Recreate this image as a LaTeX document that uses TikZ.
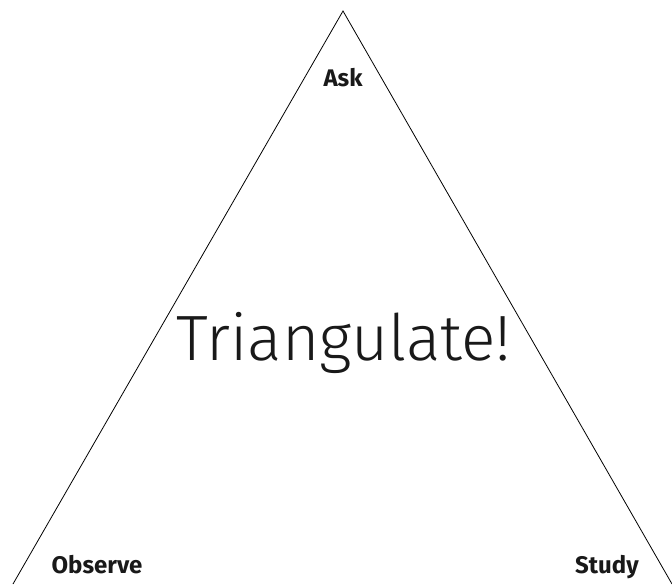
\documentclass[tikz,border=0pt]{standalone}
\usepackage{fontspec}
\setmainfont{Fira Sans}
\newfontfamily\lightfont{Fira Sans Light}
\begin{document}
\begin{tikzpicture}[x=1pt,y=-1pt,
  corner/.style={font=\bfseries\fontsize{24}{28}\selectfont, text=black!90, inner sep=0pt, anchor=base},
  title/.style={font=\lightfont\fontsize{64}{70}\selectfont, text=black!90, inner sep=0pt, anchor=base}]
\useasboundingbox (0,0) rectangle (672,584);
\coordinate (top) at (343,11);
\coordinate (bl) at (13,584);
\coordinate (br) at (672,584);
\draw[line width=0.8pt] (bl) -- (top) -- (br);
\node[corner] (ask) at (343,86) {Ask};
\node[corner] (obs) at (97,573) {Observe};
\node[corner] (study) at (607,573) {Study};
\node[title] (tri) at (344,360) {Triangulate!};
\end{tikzpicture}
\end{document}
